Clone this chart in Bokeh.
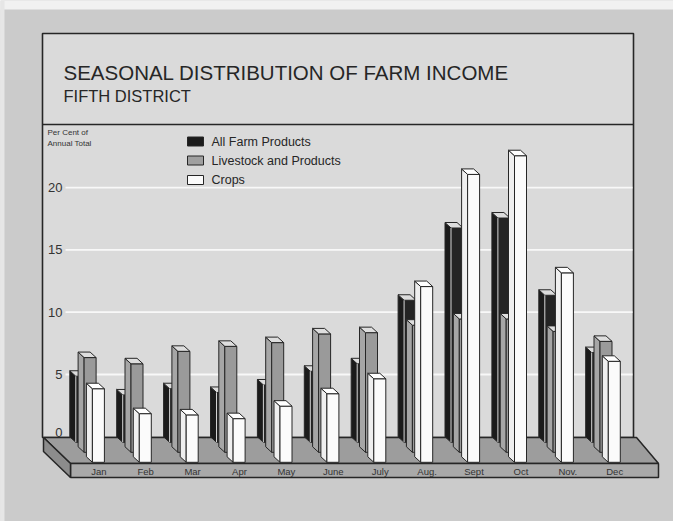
from bokeh.plotting import figure
from bokeh.models import Range1d
from bokeh.embed import file_html
from bokeh.resources import INLINE
from bokeh.core.properties import value

# ---- data: per cent of annual total, by month ----
months = ["Jan", "Feb", "Mar", "Apr", "May", "June", "July", "Aug.", "Sept", "Oct", "Nov.", "Dec"]
all_farm = [5.3, 3.8, 4.3, 4.0, 4.6, 5.7, 6.3, 11.4, 17.2, 18.0, 11.8, 7.2]
livestock = [6.8, 6.3, 7.3, 7.7, 8.0, 8.7, 8.8, 9.4, 9.9, 9.9, 8.9, 8.1]
crops = [4.3, 2.3, 2.2, 1.9, 2.9, 3.9, 5.1, 12.5, 21.5, 23.0, 13.6, 6.5]
series_names = ["All Farm Products", "Livestock and Products", "Crops"]
y_ticks = [0, 5, 10, 15, 20]

# ---- canvas geometry (pixels) ----
W, H = 673, 521
X0 = 69.3      # left edge of the first month group
GROUP = 46.9   # horizontal spacing of month groups
Y0 = 436.3     # zero line (foot of the back wall)
UNIT = 12.46   # pixels per percentage point


def X(px):
    return (px - X0) / GROUP


def Y(py):
    return (Y0 - py) / UNIT


def DX(px):
    return px / GROUP


def DY(py):
    return py / UNIT


FONT = value("Liberation Sans")
INK = "#262626"

p = figure(width=W, height=H, output_backend="svg", toolbar_location=None,
           x_range=Range1d(X(0), X(W)), y_range=Range1d(Y(H), Y(0)),
           x_axis_location=None, y_axis_location=None, min_border=0)
p.grid.visible = False
p.outline_line_color = None
p.background_fill_color = "#cbcbcb"
p.border_fill_color = "#cbcbcb"

# paper edge
p.quad(left=[X(0)], right=[X(W)], top=[Y(0)], bottom=[Y(9)], fill_color="#f1f1f1", line_color=None)
p.quad(left=[X(0)], right=[X(4)], top=[Y(0)], bottom=[Y(H)], fill_color="#e6e6e6", line_color=None)

# back wall with title band
p.quad(left=[X(42)], right=[X(633)], top=[Y(33)], bottom=[Y(437)],
       fill_color="#dadada", line_color=INK, line_width=1.6)
p.segment(x0=[X(42)], y0=[Y(124)], x1=[X(633)], y1=[Y(124)], line_color=INK, line_width=1.6)

# horizontal grid on the wall
grid_vals = [t for t in y_ticks if t > 0]
p.segment(x0=[X(65)] * len(grid_vals), y0=grid_vals, x1=[X(632)] * len(grid_vals), y1=grid_vals,
          line_color="#f8f8f8", line_width=1.8)

# tick labels
p.text(x=[X(62)] * len(y_ticks), y=y_ticks, text=[str(t) for t in y_ticks],
       y_offset=[-4 if t == 0 else 0 for t in y_ticks],
       text_font=FONT, text_font_size="13px", text_color="#333333",
       text_align="right", text_baseline="middle")
p.text(x=[X(47), X(47)], y=[Y(132), Y(143)], text=["Per Cent of", "Annual Total"],
       text_font=FONT, text_font_size="8px", text_color="#333333",
       text_align="left", text_baseline="middle")

# titles
p.text(x=[X(63)], y=[Y(72)], text=["SEASONAL DISTRIBUTION OF FARM INCOME"],
       text_font=FONT, text_font_size="20.5px", text_color=INK,
       text_align="left", text_baseline="middle")
p.text(x=[X(63)], y=[Y(95)], text=["FIFTH DISTRICT"],
       text_font=FONT, text_font_size="16.5px", text_color=INK,
       text_align="left", text_baseline="middle")

# floor platform
p.patches(xs=[[X(43), X(636), X(658), X(70)],
              [X(70), X(658), X(658), X(70)],
              [X(43), X(70), X(70), X(43)]],
          ys=[[Y(437), Y(437), Y(463), Y(463)],
              [Y(463), Y(463), Y(477), Y(477)],
              [Y(437), Y(463), Y(477), Y(451)]],
          fill_color=["#9d9d9d", "#a9a9a9", "#8c8c8c"], line_color=INK, line_width=1.5)

# month labels on the platform front
p.text(x=[i + DX(29) for i in range(len(months))], y=[Y(470.5)] * len(months), text=months,
       text_font=FONT, text_font_size="9.5px", text_color="#333333",
       text_align="center", text_baseline="middle")

# ---- oblique bars: back (all), middle (livestock), front (crops) ----
LAYER_DX = DX(8.3)    # shift of each series toward the viewer
LAYER_DY = DY(10.0)
SIDE_DX = DX(6.0)     # bar depth
SIDE_DY = DY(5.5)
FACE_W = DX(12.0)     # bar front width

layers = [
    (all_farm, "#1b1b1b", "#242424", "#dcdcdc"),
    (livestock, "#a6a6a6", "#9a9a9a", "#dedede"),
    (crops, "#efefef", "#fbfbfb", "#ffffff"),
]

for k, (vals, side_c, front_c, top_c) in enumerate(layers):
    side_xs, side_ys, front_xs, front_ys, top_xs, top_ys = [], [], [], [], [], []
    for i, v in enumerate(vals):
        xl = i + k * LAYER_DX
        yb = -k * LAYER_DY
        side_xs.append([xl, xl + SIDE_DX, xl + SIDE_DX, xl])
        side_ys.append([v, v - SIDE_DY, yb - SIDE_DY, yb])
        front_xs.append([xl + SIDE_DX, xl + SIDE_DX + FACE_W, xl + SIDE_DX + FACE_W, xl + SIDE_DX])
        front_ys.append([v - SIDE_DY, v - SIDE_DY, yb - SIDE_DY, yb - SIDE_DY])
        top_xs.append([xl, xl + FACE_W, xl + FACE_W + SIDE_DX, xl + SIDE_DX])
        top_ys.append([v, v, v - SIDE_DY, v - SIDE_DY])
    p.patches(xs=side_xs, ys=side_ys, fill_color=side_c, line_color=INK, line_width=1)
    p.patches(xs=front_xs, ys=front_ys, fill_color=front_c, line_color=INK, line_width=1)
    p.patches(xs=top_xs, ys=top_ys, fill_color=top_c, line_color=INK, line_width=1)
    if k == 0:
        # light edge between side and front of the dark bars
        p.segment(x0=[i + SIDE_DX for i in range(len(vals))], y0=[v - SIDE_DY for v in vals],
                  x1=[i + SIDE_DX for i in range(len(vals))], y1=[-SIDE_DY] * len(vals),
                  line_color="#e6e6e6", line_width=0.9)

# legend
legend_y = [Y(141), Y(160), Y(179.5)]
p.rect(x=[X(195)] * 3, y=legend_y, width=DX(16), height=DY(9),
       fill_color=["#1b1b1b", "#a0a0a0", "#fbfbfb"], line_color=INK, line_width=1)
p.text(x=[X(211)] * 3, y=legend_y, text=series_names,
       text_font=FONT, text_font_size="12.5px", text_color=INK,
       text_align="left", text_baseline="middle")

open("out.html", "w").write(file_html(p, INLINE, title="Seasonal Distribution of Farm Income"))
